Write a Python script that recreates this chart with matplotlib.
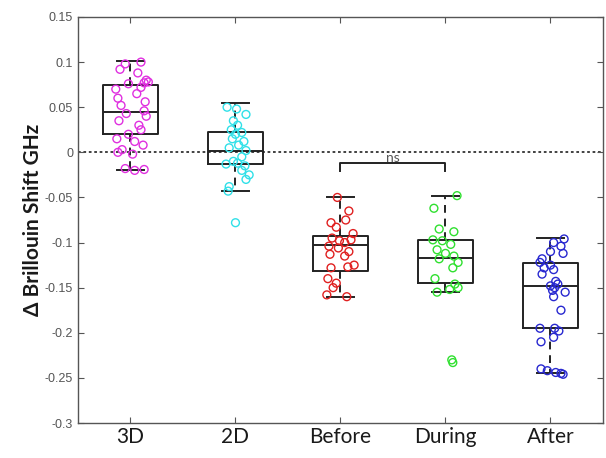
import numpy as np
import matplotlib
matplotlib.use("Agg")
import matplotlib.pyplot as plt

groups = ["3D", "2D", "Before", "During", "After"]
colors = ["#e030e0", "#30e0e8", "#e02020", "#30e030", "#2828d0"]

# box stats: whislo, q1, med, q3, whishi
box_stats = [
    (-0.020, 0.020, 0.045, 0.075, 0.101),
    (-0.043, -0.013, 0.001, 0.023, 0.055),
    (-0.160, -0.132, -0.103, -0.093, -0.050),
    (-0.155, -0.145, -0.117, -0.097, -0.048),
    (-0.245, -0.195, -0.148, -0.123, -0.095),
]

# scattered points: horizontal offset from group centre, and value
pts_3d_dx = [0.10, -0.05, -0.10, 0.07, 0.15, 0.17, 0.13, -0.02, 0.10, -0.14,
             0.06, -0.12, 0.14, -0.09, 0.13, -0.04, 0.15, -0.11, 0.08, 0.10,
             -0.02, -0.13, 0.04, 0.12, -0.08, -0.12, 0.02, -0.05, 0.04, 0.13]
pts_3d_y = [0.100, 0.098, 0.092, 0.088, 0.080, 0.078, 0.077, 0.076, 0.072, 0.070,
            0.065, 0.060, 0.056, 0.052, 0.046, 0.043, 0.040, 0.035, 0.030, 0.025,
            0.020, 0.015, 0.012, 0.008, 0.003, 0.000, -0.002, -0.018, -0.020, -0.019]

pts_2d_dx = [-0.08, 0.01, 0.10, -0.02, 0.02, -0.04, 0.06, 0.00, -0.03, 0.08,
             0.03, -0.06, 0.10, 0.06, -0.02, 0.02, -0.09, 0.09, 0.06, 0.13,
             0.10, -0.06, -0.07, 0.00]
pts_2d_y = [0.050, 0.048, 0.042, 0.035, 0.030, 0.025, 0.022, 0.020, 0.015, 0.012,
            0.008, 0.005, 0.002, -0.005, -0.010, -0.012, -0.013, -0.015, -0.020, -0.025,
            -0.030, -0.038, -0.043, -0.078]

pts_before_dx = [-0.03, 0.08, 0.05, -0.09, -0.04, 0.12, -0.08, -0.01, 0.10, 0.04,
                 -0.11, -0.02, 0.08, -0.10, 0.04, 0.07, 0.13, -0.09, -0.12, -0.04,
                 -0.07, -0.13, 0.06]
pts_before_y = [-0.050, -0.065, -0.075, -0.078, -0.083, -0.090, -0.095, -0.098, -0.097, -0.100,
                -0.104, -0.106, -0.110, -0.113, -0.115, -0.127, -0.125, -0.128, -0.140, -0.145,
                -0.150, -0.158, -0.160]

pts_during_dx = [0.11, -0.11, -0.06, 0.08, -0.12, -0.03, 0.05, -0.08, 0.00, 0.08,
                 -0.06, 0.12, 0.07, -0.10, 0.09, 0.12, 0.04, -0.08, 0.06, 0.07]
pts_during_y = [-0.048, -0.062, -0.085, -0.088, -0.097, -0.098, -0.102, -0.108, -0.112, -0.115,
                -0.118, -0.122, -0.128, -0.140, -0.146, -0.150, -0.152, -0.155, -0.230, -0.233]

pts_after_dx = [0.13, 0.03, 0.10, 0.00, 0.12, -0.08, -0.10, 0.00, 0.03, -0.06,
                -0.08, 0.05, 0.07, 0.00, 0.04, 0.02, 0.14, 0.03, 0.10, -0.10,
                0.04, 0.08, 0.03, -0.09, -0.09, -0.03, 0.05, 0.12, 0.10]
pts_after_y = [-0.096, -0.100, -0.104, -0.110, -0.112, -0.118, -0.122, -0.125, -0.130, -0.128,
               -0.135, -0.143, -0.146, -0.148, -0.150, -0.153, -0.155, -0.160, -0.175, -0.195,
               -0.195, -0.198, -0.205, -0.210, -0.240, -0.242, -0.244, -0.246, -0.245]

pts_dx = [pts_3d_dx, pts_2d_dx, pts_before_dx, pts_during_dx, pts_after_dx]
pts_y = [pts_3d_y, pts_2d_y, pts_before_y, pts_during_y, pts_after_y]

yticks = [0.15, 0.1, 0.05, 0, -0.05, -0.1, -0.15, -0.2, -0.25, -0.3]
ytick_labels = ["0.15", "0.1", "0.05", "0", "-0.05", "-0.1", "-0.15", "-0.2", "-0.25", "-0.3"]

fig = plt.figure(figsize=(6.06, 4.58), dpi=100)
ax = fig.add_axes([0.1287, 0.0764, 0.8663, 0.8865])

ax.axhline(0, color="#333333", linestyle=(0, (1.5, 1.5)), linewidth=1.3, zorder=1)

stats = []
for name, (lo, q1, med, q3, hi) in zip(groups, box_stats):
    stats.append(dict(label=name, whislo=lo, q1=q1, med=med, q3=q3, whishi=hi, fliers=[]))
positions = np.arange(1, len(groups) + 1)
ax.bxp(stats, positions=positions, widths=0.52, showfliers=False,
       boxprops=dict(color="#222222", linewidth=1.4),
       medianprops=dict(color="#222222", linewidth=1.4),
       whiskerprops=dict(color="#222222", linewidth=1.4, linestyle=(0, (4, 3))),
       capprops=dict(color="#222222", linewidth=1.4),
       capwidths=0.25, zorder=2)

for pos, dx, y, c in zip(positions, pts_dx, pts_y, colors):
    ax.scatter(pos + np.array(dx), y, s=32, facecolors="none", edgecolors=c,
               linewidths=1.0, zorder=3)

# significance bracket between Before and During
ax.plot([3, 3, 4, 4], [-0.021, -0.012, -0.012, -0.021], color="#222222", linewidth=1.4, zorder=4)
ax.text(3.5, -0.0125, "ns", ha="center", va="bottom", fontsize=10, color="#555555",
        family="Lato")

ax.set_xlim(0.5, 5.5)
ax.set_ylim(-0.3, 0.15)
ax.set_xticks(positions)
ax.set_xticklabels(groups, fontsize=15, family="Lato", color="#1a1a1a")
ax.set_yticks(yticks)
ax.set_yticklabels(ytick_labels, fontsize=9, color="#555555", family="Liberation Sans")
ax.tick_params(direction="in", top=True, right=True, length=4, color="#555555")
ax.tick_params(axis="x", pad=3)
ax.set_ylabel("Δ Brillouin Shift GHz", fontsize=15, family="Lato", fontweight="bold",
              color="#1a1a1a", labelpad=1)
for s in ax.spines.values():
    s.set_color("#555555")
    s.set_linewidth(1.0)

fig.savefig("out.png", dpi=100)
